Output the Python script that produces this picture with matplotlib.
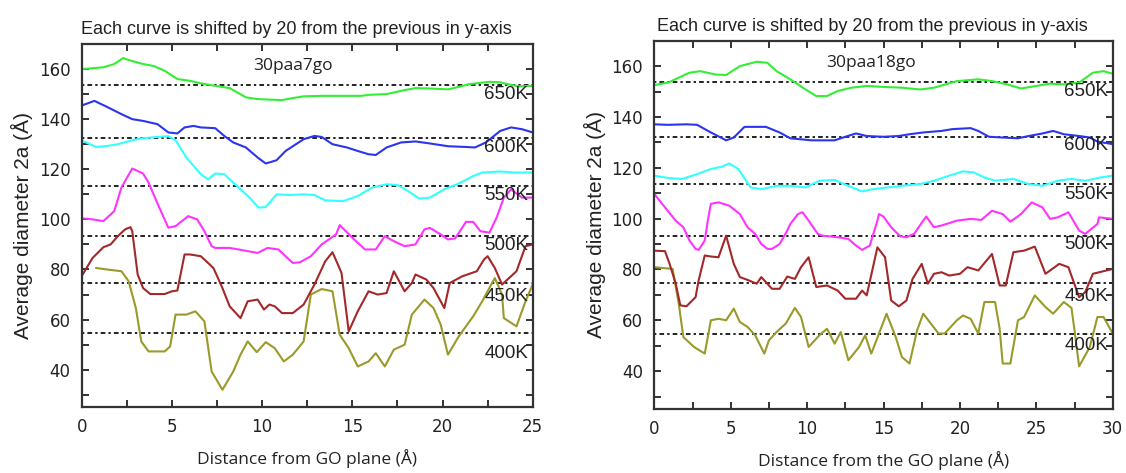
"""Two-panel stacked curves: average diameter vs distance from the GO plane."""

import matplotlib

matplotlib.use("Agg")
import matplotlib.pyplot as plt
import numpy as np

# ---- data: (distance, diameter) pairs ----
temps = ["400K", "450K", "500K", "550K", "600K", "650K"]
baselines = [54.7, 74.5, 93.3, 113.5, 132.3, 153.8]

a7_650 = [(0.05, 160.0), (1.2, 160.7), (1.8, 162.0), (2.3, 164.4), (2.6, 163.6), (3.4, 162.0),
          (4.0, 161.2), (4.6, 159.3), (5.3, 156.0), (6.0, 155.3), (6.6, 154.3), (7.4, 153.3),
          (8.2, 152.4), (9.1, 148.7), (9.75, 148.0), (11.1, 147.6), (11.7, 148.4), (12.3, 149.1),
          (13.3, 149.3), (15.5, 149.3), (15.9, 149.7), (16.9, 150.0), (17.7, 151.3), (18.5, 152.4),
          (19.1, 152.3), (20.3, 151.9), (20.8, 152.7), (21.5, 154.0), (22.6, 154.9), (23.2, 154.7),
          (23.6, 154.0), (24.2, 153.1), (25.0, 153.3)]
a7_600 = [(0.1, 145.7), (0.7, 147.3), (1.4, 144.9), (2.2, 142.0), (2.8, 140.0), (3.4, 139.3),
          (4.2, 138.0), (4.8, 134.7), (5.3, 134.3), (5.7, 136.7), (6.2, 137.3), (6.6, 136.7),
          (7.4, 136.4), (7.9, 133.3), (8.4, 130.7), (9.1, 128.7), (9.75, 124.7), (10.2, 122.3),
          (10.8, 123.6), (11.3, 127.3), (12.3, 132.0), (12.9, 133.3), (13.3, 132.9), (13.9, 130.0),
          (14.7, 128.7), (15.3, 127.3), (15.9, 126.0), (16.3, 125.7), (16.9, 128.7), (17.7, 130.7),
          (18.5, 131.1), (19.3, 130.3), (20.3, 129.2), (21.3, 128.9), (21.8, 128.7), (22.4, 130.7),
          (23.2, 135.3), (23.8, 136.7), (24.4, 136.0), (25.0, 134.7)]
a7_550 = [(0.05, 131.3), (0.8, 128.9), (1.4, 129.3), (2.0, 130.0), (2.8, 131.6), (3.4, 132.4),
          (4.2, 132.9), (4.8, 133.2), (5.2, 131.6), (5.8, 124.7), (6.6, 118.0), (7.0, 116.0),
          (7.4, 118.3), (7.9, 118.0), (8.7, 112.7), (9.3, 108.7), (9.8, 104.7), (10.2, 104.9),
          (10.8, 110.0), (11.5, 109.7), (12.3, 110.0), (12.9, 109.7), (13.5, 107.6), (14.5, 107.3),
          (15.3, 109.3), (16.1, 112.7), (16.9, 114.0), (17.5, 113.7), (18.1, 111.3), (18.7, 108.3),
          (19.3, 108.7), (20.1, 112.0), (20.9, 114.3), (21.7, 117.3), (22.2, 118.7), (23.2, 119.1),
          (24.0, 118.7), (25.0, 118.7)]
a7_500 = [(0.05, 100.4), (0.6, 100.0), (1.2, 99.3), (1.8, 103.3), (2.2, 112.7), (2.8, 120.3),
          (3.4, 118.3), (3.7, 114.7), (4.3, 104.7), (4.8, 96.7), (5.2, 97.3), (5.9, 101.3),
          (6.4, 100.0), (6.8, 95.3), (7.2, 89.3), (7.4, 88.6), (8.2, 88.6), (9.0, 87.6),
          (9.75, 86.6), (10.3, 88.6), (10.9, 88.0), (11.7, 82.6), (12.1, 82.9), (12.7, 85.3),
          (13.3, 90.0), (14.1, 94.0), (14.3, 97.7), (15.1, 92.0), (15.7, 88.0), (16.3, 88.0),
          (16.8, 93.3), (17.3, 91.3), (17.9, 89.3), (18.5, 90.0), (19.0, 96.0), (19.3, 96.6),
          (19.9, 94.0), (20.3, 92.0), (20.7, 92.4), (21.3, 99.0), (21.7, 99.0), (22.1, 95.3),
          (22.6, 94.7), (23.0, 100.7), (23.4, 108.7), (23.8, 112.0), (24.4, 108.7), (25.0, 108.7)]
a7_450 = [(0.05, 78.0), (0.6, 84.6), (1.2, 88.9), (1.6, 90.0), (2.0, 93.3), (2.4, 96.0),
          (2.7, 96.9), (2.8, 95.3), (3.1, 78.0), (3.4, 72.6), (3.8, 70.2), (4.6, 70.2),
          (5.0, 71.3), (5.3, 71.6), (5.7, 86.0), (6.0, 86.0), (6.6, 85.3), (6.9, 83.3),
          (7.3, 80.6), (7.8, 72.6), (8.2, 65.3), (8.8, 60.6), (9.2, 67.3), (9.75, 68.0),
          (10.1, 64.0), (10.4, 66.0), (10.7, 65.3), (11.1, 62.6), (11.7, 62.6), (12.3, 66.0),
          (12.9, 74.0), (13.5, 83.3), (13.9, 86.9), (14.2, 82.0), (14.4, 78.6), (14.8, 55.3),
          (15.3, 63.3), (15.9, 71.3), (16.4, 70.0), (16.9, 70.6), (17.3, 79.3), (17.9, 71.3),
          (18.3, 74.6), (18.5, 78.0), (19.1, 76.0), (19.5, 72.6), (20.1, 64.6), (20.4, 74.6),
          (21.1, 77.3), (21.9, 79.3), (22.3, 84.0), (22.5, 85.3), (22.9, 80.6), (23.3, 74.0),
          (24.1, 79.3), (24.6, 89.3), (25.0, 90.0)]
a7_400 = [(0.8, 80.6), (1.4, 80.0), (2.2, 79.3), (2.6, 75.3), (3.0, 64.6), (3.3, 51.3),
          (3.7, 47.3), (4.6, 47.3), (4.9, 49.3), (5.2, 62.0), (5.8, 62.0), (6.3, 63.3),
          (6.8, 59.3), (7.2, 39.3), (7.8, 32.0), (8.4, 39.3), (8.8, 46.0), (9.2, 51.3),
          (9.7, 47.0), (10.2, 51.0), (10.7, 48.6), (11.2, 43.3), (11.7, 46.0), (12.3, 51.3),
          (12.7, 70.0), (13.3, 72.2), (13.9, 71.3), (14.3, 54.0), (14.8, 48.6), (15.3, 41.3),
          (15.9, 43.3), (16.3, 46.6), (16.8, 41.3), (17.3, 48.0), (17.9, 50.0), (18.3, 62.0),
          (19.0, 68.0), (19.5, 64.6), (19.9, 58.0), (20.3, 46.0), (20.9, 53.3), (21.7, 61.3),
          (22.2, 67.3), (22.7, 74.0), (22.9, 76.6), (23.3, 70.0), (23.4, 60.6), (24.1, 57.3),
          (24.6, 67.3), (25.0, 74.0)]

a18_650 = [(0.0, 152.5), (0.9, 153.5), (2.3, 157.4), (3.0, 158.0), (4.0, 156.7), (4.7, 156.5),
           (5.6, 160.0), (6.7, 161.7), (7.4, 161.3), (8.0, 158.0), (8.9, 154.8), (9.9, 150.8),
           (10.6, 148.2), (11.3, 148.2), (12.0, 150.2), (12.9, 151.5), (13.9, 152.2), (15.0, 151.8),
           (16.2, 151.5), (17.4, 150.8), (18.3, 151.5), (19.8, 154.1), (21.2, 154.8), (22.1, 154.1),
           (23.1, 152.8), (24.0, 151.2), (25.0, 152.2), (25.9, 153.1), (26.8, 152.8), (27.8, 153.5),
           (28.7, 157.4), (29.4, 158.0), (30.0, 157.0)]
a18_600 = [(0.0, 137.1), (0.9, 136.9), (2.1, 137.1), (2.8, 136.9), (3.7, 133.9), (4.7, 130.8),
           (5.2, 131.9), (5.9, 136.1), (7.3, 136.1), (8.2, 133.9), (8.9, 131.6), (10.3, 130.8),
           (11.8, 130.8), (12.5, 132.2), (13.2, 133.5), (13.9, 132.5), (15.0, 132.2), (16.0, 132.5),
           (16.7, 133.2), (17.6, 133.9), (18.8, 134.5), (19.5, 135.2), (20.7, 135.6), (21.2, 134.5),
           (21.9, 132.2), (22.8, 131.9), (23.8, 131.6), (24.5, 132.5), (25.4, 133.5), (26.1, 134.5),
           (26.8, 133.2), (27.8, 132.5), (28.5, 131.9), (29.0, 130.3), (30.0, 129.3)]
a18_550 = [(0.0, 116.9), (0.9, 116.0), (1.8, 115.6), (2.8, 117.5), (3.7, 119.5), (4.4, 120.4),
           (4.9, 121.7), (5.5, 119.5), (6.3, 112.3), (7.0, 111.6), (8.0, 112.9), (8.9, 112.9),
           (9.9, 112.3), (10.8, 114.9), (11.8, 115.2), (12.7, 112.9), (13.6, 110.7), (14.3, 111.6),
           (15.3, 112.3), (16.2, 112.9), (17.4, 113.6), (18.3, 114.9), (19.3, 116.9), (20.2, 118.6),
           (20.9, 118.2), (21.6, 116.2), (22.3, 114.9), (23.5, 115.6), (24.5, 113.6), (25.4, 112.9),
           (26.4, 114.9), (27.3, 115.6), (28.2, 114.9), (29.2, 116.2), (30.0, 116.9)]
a18_500 = [(0.0, 109.7), (0.7, 104.4), (1.4, 99.2), (1.9, 96.6), (2.3, 91.4), (2.7, 88.1),
           (2.9, 87.7), (3.3, 91.4), (3.5, 99.2), (3.7, 105.8), (4.2, 106.4), (4.9, 105.1),
           (5.6, 101.8), (6.1, 96.6), (6.6, 94.0), (7.0, 90.0), (7.4, 88.1), (7.7, 88.1),
           (8.2, 90.0), (8.7, 95.3), (8.9, 97.9), (9.4, 101.8), (9.7, 102.5), (10.1, 99.2),
           (10.7, 94.0), (11.0, 93.3), (12.0, 92.7), (12.7, 92.0), (13.2, 89.4), (13.6, 87.7),
           (14.1, 89.4), (14.6, 99.2), (14.7, 101.8), (15.0, 100.8), (15.5, 96.6), (16.1, 93.0),
           (16.5, 92.7), (17.0, 94.0), (17.6, 99.2), (17.8, 100.8), (18.3, 96.6), (18.8, 97.3),
           (19.8, 99.2), (20.7, 99.9), (21.4, 99.5), (22.1, 103.1), (22.8, 101.8), (23.3, 98.8),
           (24.0, 101.8), (24.7, 106.4), (25.4, 104.4), (25.9, 99.9), (26.4, 100.5), (27.1, 102.5),
           (27.8, 95.3), (28.2, 94.0), (29.0, 97.9), (29.1, 100.5), (30.0, 99.9)]
a18_450 = [(0.0, 87.4), (0.7, 87.2), (1.0, 82.2), (1.4, 74.4), (1.7, 65.9), (2.1, 65.5),
           (2.7, 69.1), (2.9, 75.7), (3.3, 85.5), (3.7, 85.1), (4.2, 84.8), (4.7, 93.3),
           (5.2, 82.2), (5.6, 77.0), (6.1, 75.9), (6.7, 74.4), (7.0, 77.0), (7.7, 72.4),
           (8.2, 72.4), (8.7, 77.2), (9.2, 76.3), (9.6, 80.9), (10.1, 84.8), (10.6, 73.1),
           (11.3, 73.7), (12.0, 71.7), (12.5, 68.5), (13.2, 68.5), (13.6, 71.7), (13.9, 69.8),
           (14.6, 88.7), (15.1, 84.8), (15.5, 67.8), (16.0, 65.5), (16.5, 67.8), (16.9, 76.3),
           (17.5, 82.2), (17.9, 74.4), (18.3, 78.3), (18.8, 78.9), (19.3, 77.6), (20.0, 78.3),
           (20.5, 80.9), (21.2, 79.6), (22.1, 86.1), (22.6, 73.7), (23.0, 73.7), (23.5, 86.8),
           (24.2, 87.4), (24.9, 89.0), (25.6, 78.3), (26.5, 82.2), (27.1, 80.9), (27.8, 69.1),
           (28.2, 71.1), (28.7, 78.3), (30.0, 80.2)]
a18_400 = [(0.0, 80.9), (1.2, 80.2), (1.6, 66.5), (1.9, 53.4), (2.6, 49.5), (3.3, 46.9),
           (3.7, 60.0), (4.2, 60.6), (4.7, 60.0), (5.2, 64.6), (5.6, 59.3), (6.1, 57.4),
           (6.6, 54.1), (7.2, 46.9), (7.5, 52.1), (8.0, 55.4), (8.6, 58.7), (9.2, 64.9),
           (9.6, 61.3), (10.1, 49.5), (10.8, 54.1), (11.3, 56.7), (11.8, 50.8), (12.2, 55.4),
           (12.7, 44.3), (13.4, 49.5), (13.8, 54.1), (14.2, 46.9), (15.2, 62.6), (15.8, 53.4),
           (16.2, 45.6), (16.7, 43.0), (17.2, 56.1), (17.6, 62.6), (18.6, 54.8), (19.0, 54.8),
           (19.8, 60.0), (20.2, 61.9), (20.7, 60.6), (21.2, 54.8), (21.6, 67.2), (22.3, 67.2),
           (22.6, 56.7), (22.8, 43.0), (23.3, 43.0), (23.8, 60.0), (24.2, 61.3), (24.9, 69.8),
           (25.6, 65.2), (26.1, 62.6), (26.8, 67.2), (27.3, 64.9), (27.5, 56.1), (27.8, 41.9),
           (28.5, 49.5), (29.0, 61.3), (29.4, 61.3), (30.0, 54.8)]

colors = ["#9a9a2a", "#a3282a", "#ff33ff", "#33ffff", "#2b35ee", "#33ee33"]

TITLE = "Each curve is shifted by 20 from the previous in y-axis"
YLABEL = "Average diameter 2a (\u00c5)"

panels = [
    dict(rect=[0.0726, 0.1389, 0.4005, 0.7681], xmax=25, name="30paa7go", name_x=11.7,
         series=[a7_400, a7_450, a7_500, a7_550, a7_600, a7_650], xpad=9,
         label_y=[46.4, 69.2, 89.6, 109.6, 128.6, 150.0], xlabel="Distance from GO plane (\u00c5)"),
    dict(rect=[0.5811, 0.1347, 0.4071, 0.7793], xmax=30, name="30paa18go", name_x=14.2,
         series=[a18_400, a18_450, a18_500, a18_550, a18_600, a18_650], xpad=9,
         label_y=[50.1, 69.4, 90.0, 109.3, 128.6, 150.2], xlabel="Distance from the GO plane (\u00c5)"),
]

fig = plt.figure(figsize=(11.26, 4.73), dpi=100)
for p in panels:
    ax = fig.add_axes(p["rect"])
    xmax = p["xmax"]
    for base in baselines:
        ax.axhline(base, color="#222222", lw=1.4, ls=(0, (1.2, 1.6, 2.4, 1.6)), zorder=1)
    for pts, c in zip(p["series"], colors):
        arr = np.array(pts)
        ax.plot(arr[:, 0], arr[:, 1], color=c, lw=1.5, zorder=2)
    for t, ly in zip(temps, p["label_y"]):
        ax.text(xmax * 0.99, ly, t, ha="right", va="center", fontsize=13.5,
                family="Liberation Sans", color="#222222", zorder=3)
    ax.text(p["name_x"], 161.2, p["name"], ha="center", va="center", fontsize=12.5,
            family="Open Sans", color="#222222")
    ax.set_xlim(0, xmax)
    ax.set_ylim(25, 170)
    ax.set_xticks(np.arange(0, xmax + 0.1, 2.5))
    ax.set_xticklabels([f"{v:g}" if v % 5 == 0 else "" for v in np.arange(0, xmax + 0.1, 2.5)])
    ax.set_yticks(np.arange(30, 171, 10))
    ax.set_yticklabels([f"{v}" if v % 20 == 0 else "" for v in range(30, 171, 10)])
    ax.tick_params(direction="in", length=5, width=1.3, top=True, right=True,
                   labelsize=12, pad=8, colors="#222222")
    for lab in ax.get_xticklabels() + ax.get_yticklabels():
        lab.set_family("DejaVu Sans")
    for sp in ax.spines.values():
        sp.set_linewidth(1.6)
        sp.set_color("#333333")
    ax.set_title(TITLE, fontsize=13, family="Liberation Sans", pad=7, x=0.475, color="#222222")
    ax.set_ylabel(YLABEL, fontsize=15, family="Liberation Sans", color="#222222")
    ax.set_xlabel(p["xlabel"], fontsize=12.5, family="Open Sans", labelpad=p["xpad"], color="#222222")

fig.savefig("out.png", dpi=100)
